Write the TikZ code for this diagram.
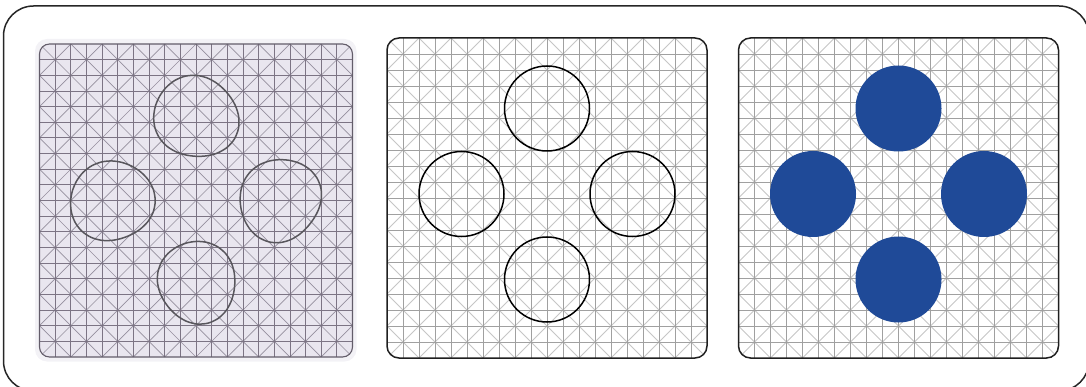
\documentclass[tikz,border=0pt]{standalone}
\usepackage{xcolor}
\definecolor{dotblue}{HTML}{1F4A98}
\definecolor{photobg}{HTML}{E9E6EF}
\definecolor{photohalo}{HTML}{F3F2F6}
\definecolor{photoline}{HTML}{7C7484}
\definecolor{photodiag}{HTML}{958F9E}
\definecolor{pencil}{HTML}{58565C}
\definecolor{gridline}{HTML}{A0A0A0}
\definecolor{diagline}{HTML}{C6C6C6}

\newcommand\gridpanel[7]{%
  \begin{scope}
    \clip[rounded corners=#5] (#1,#2) rectangle ++(#3,#3);
    \foreach \k in {-10,...,10}{
      \draw[#7] ({#1+2*\k*#4},#2) -- ++(#3,#3);
      \draw[#7] ({#1+2*\k*#4+#3},#2) -- ++(-#3,#3);
    }
    \foreach \i in {1,...,19}{
      \draw[#6] ({#1+\i*#4},#2) -- ++(0,#3);
      \draw[#6] (#1,{#2+\i*#4}) -- ++(#3,0);
    }
  \end{scope}}

\tikzset{
  outerframe/.style={draw=black!85, line width=1.5pt, rounded corners=30pt},
  panelframe/.style={draw=black!88, line width=1.5pt, rounded corners=12pt},
  hvline/.style={draw=gridline, line width=0.9pt},
  dgline/.style={draw=diagline, line width=0.8pt},
  photohv/.style={draw=photoline, line width=0.8pt},
  photodg/.style={draw=photodiag, line width=0.7pt},
  outline/.style={draw=black, line width=1.5pt},
  bluedot/.style={fill=dotblue, draw=none},
  handdrawn/.style={draw=pencil, line width=1.5pt},
}

\begin{document}
\begin{tikzpicture}[x=1pt,y=-1pt]
\useasboundingbox (0,0) rectangle (1086,387);

% outer frame
\begin{scope}
  \clip (0,0) rectangle (1086,387);
  \draw[outerframe] (3.5,6) rectangle (1089,391);
\end{scope}

% ---------- panel 1 : photo ----------
\fill[photohalo, rounded corners=12pt] (35,39) rectangle (356.5,361.5);
\fill[photobg, rounded corners=10pt] (39.5,44) rectangle (352.5,357);
\gridpanel{39.5}{44}{313}{15.65}{10pt}{photohv}{photodg}
\draw[draw=photoline!80!black, line width=1.1pt, rounded corners=10pt] (39.5,44) rectangle (352.5,357);

\coordinate (hT) at (196,117);
\coordinate (hL) at (112,201);
\coordinate (hR) at (280,200);
\coordinate (hB) at (197,282);
\draw[handdrawn] plot[smooth cycle, variable=\t, domain=0:345, samples=24]
  ({196+(41.5+1.6*sin(2*\t+40)+1.2*sin(3*\t+10))*cos(\t)},
   {117+(41.5+1.6*sin(2*\t+40)+1.2*sin(3*\t+10))*sin(\t)});
\draw[handdrawn] plot[smooth cycle, variable=\t, domain=0:345, samples=24]
  ({112+(41+1.5*sin(2*\t+120)+1.0*sin(3*\t+70))*cos(\t)},
   {201+(41+1.5*sin(2*\t+120)+1.0*sin(3*\t+70))*sin(\t)});
\draw[handdrawn] plot[smooth cycle, variable=\t, domain=0:345, samples=24]
  ({280+(41+1.4*sin(2*\t+200)+1.3*sin(3*\t+150))*cos(\t)},
   {200+(41+1.4*sin(2*\t+200)+1.3*sin(3*\t+150))*sin(\t)});
\draw[handdrawn] plot[smooth cycle, variable=\t, domain=0:345, samples=24]
  ({197+(40+1.5*sin(2*\t+300)+1.1*sin(3*\t+230))*cos(\t)},
   {282+(40+1.5*sin(2*\t+300)+1.1*sin(3*\t+230))*sin(\t)});

% ---------- panel 2 : outlines ----------
\fill[white, rounded corners=12pt] (387,38) rectangle (707,358);
\gridpanel{387}{38}{320}{16}{12pt}{hvline}{dgline}
\draw[panelframe] (387,38) rectangle (707,358);
\coordinate (oT) at (547,108.5);
\coordinate (oL) at (461.5,194);
\coordinate (oR) at (632.5,194);
\coordinate (oB) at (547,279.5);
\foreach \c in {oT,oL,oR,oB}{ \draw[outline] (\c) circle[radius=42.5]; }

% ---------- panel 3 : filled dots ----------
\fill[white, rounded corners=12pt] (738.5,38) rectangle (1058.5,358);
\gridpanel{738.5}{38}{320}{16}{12pt}{hvline}{dgline}
\draw[panelframe] (738.5,38) rectangle (1058.5,358);
\coordinate (fT) at (898.5,108.5);
\coordinate (fL) at (813,194);
\coordinate (fR) at (984,194);
\coordinate (fB) at (898.5,279.5);
\foreach \c in {fT,fL,fR,fB}{ \fill[bluedot] (\c) circle[radius=43]; }
\end{tikzpicture}
\end{document}
